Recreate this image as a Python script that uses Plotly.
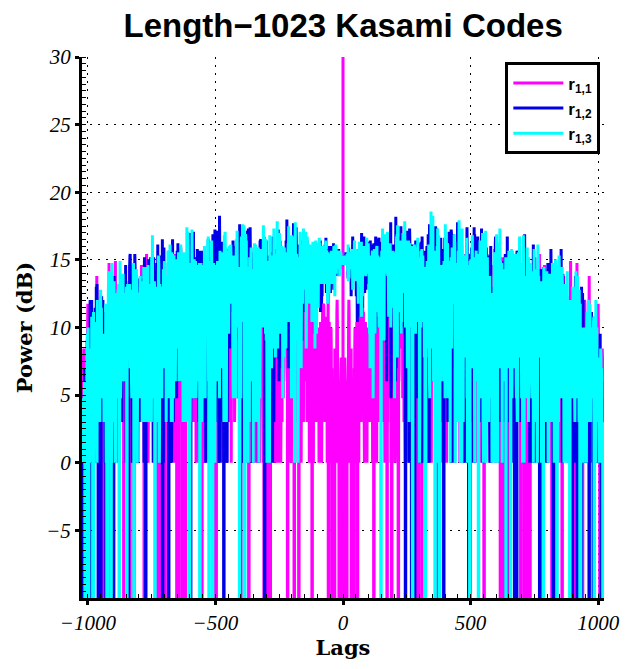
import numpy as np
import plotly.graph_objects as go

# ---- data definition: length-1023 small-set Kasami codes ----
DEGREE = 10                      # LFSR degree -> N = 2^10 - 1 = 1023
FEEDBACK_TAPS = [10, 3]          # primitive polynomial x^10 + x^3 + 1
CODE_SHIFTS = [None, 0, 1]       # code 1 = u, code 2 = u^w, code 3 = u^T(w)
SERIES_NAMES = ["r<sub>1,1</sub>", "r<sub>1,2</sub>", "r<sub>1,3</sub>"]
SERIES_COLORS = ["#FF00FF", "#0000E8", "#00FFFF"]
X_TICKS = [-1000, -500, 0, 500, 1000]
Y_TICKS = [-5, 0, 5, 10, 15, 20, 25, 30]

N = 2 ** DEGREE - 1
state = [1] * DEGREE
u = []
for _ in range(N):
    u.append(state[-1])
    fb = state[FEEDBACK_TAPS[0] - 1] ^ state[FEEDBACK_TAPS[1] - 1]
    state = [fb] + state[:-1]
u = np.array(u)
q = 2 ** (DEGREE // 2) + 1
w = u[(q * np.arange(N)) % N]

codes = []
for s in CODE_SHIFTS:
    codes.append(u.copy() if s is None else u ^ np.roll(w, s))
bip = [1 - 2 * c.astype(float) for c in codes]

lags = np.arange(-(N - 1), N)
series = []
for c in bip:
    r = np.correlate(bip[0], c, mode="full")
    series.append(10 * np.log10(np.abs(r) + np.finfo(float).eps))

fig = go.Figure()
for name, col, y in zip(SERIES_NAMES, SERIES_COLORS, series):
    fig.add_trace(go.Scatter(
        x=lags, y=y, mode="lines", name="<b>" + name + "</b>",
        line=dict(color=col, width=3, simplify=False)))

tickfont = dict(family="Liberation Serif", size=21, style="italic", color="black")
titlefont = dict(family="DejaVu Serif", size=21, weight="bold", color="black")

fig.update_layout(
    width=625, height=669,
    margin=dict(l=82, r=21, t=57, b=71, autoexpand=False),
    paper_bgcolor="white", plot_bgcolor="white",
    title=dict(text="<b>Length\u22121023 Kasami Codes</b>", x=0.549, xanchor="center",
               y=0.962, yanchor="middle",
               font=dict(family="Liberation Sans", size=33, color="black")),
    legend=dict(x=0.993, y=0.99, xanchor="right", yanchor="top",
                bgcolor="white", bordercolor="black", borderwidth=3,
                font=dict(family="Liberation Sans", size=17, color="black"),
                itemwidth=50, tracegroupgap=4),
    showlegend=True,
)
fig.update_xaxes(
    range=[-1023, 1023], tickvals=X_TICKS, automargin=False,
    ticktext=[("\u2212" + str(-v)) if v < 0 else str(v) for v in X_TICKS],
    showline=True, linecolor="black", linewidth=3, mirror=False,
    ticks="outside", ticklen=4, tickwidth=3, tickcolor="black",
    minor=dict(ticks="inside", ticklen=4, tickwidth=1, tickcolor="black", dtick=50, showgrid=False),
    showgrid=True, gridcolor="black", griddash="2px,6px", gridwidth=1,
    zeroline=False, tickfont=tickfont,
    title=dict(text="Lags", font=titlefont, standoff=4),
)
fig.update_yaxes(
    range=[-10, 30], tickvals=Y_TICKS, automargin=False,
    ticktext=[("\u2212" + str(-v)) if v < 0 else str(v) for v in Y_TICKS],
    showline=True, linecolor="black", linewidth=3, mirror=False,
    ticks="outside", ticklen=4, tickwidth=3, tickcolor="black",
    minor=dict(ticks="inside", ticklen=4, tickwidth=1, tickcolor="black", dtick=0.5, showgrid=False),
    showgrid=True, gridcolor="black", griddash="2px,6px", gridwidth=1,
    zeroline=False, tickfont=tickfont,
    title=dict(text="Power (dB)", font=titlefont, standoff=8),
)
fig.write_html("out.html")
